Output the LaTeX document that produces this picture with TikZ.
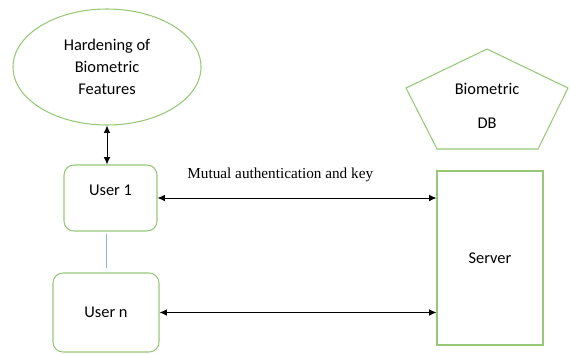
\documentclass[tikz,border=0pt]{standalone}
\usepackage{fontspec}
\setmainfont{Carlito}
\newfontfamily\serifnote{Liberation Serif}
\usetikzlibrary{arrows.meta,shapes.geometric}
\definecolor{boxgreen}{RGB}{150,200,120}
\definecolor{linkblue}{RGB}{140,180,225}
\tikzset{%
  >={Latex[width=2mm,length=2.2mm]},
  % Specifications for style of nodes:
         base/.style = {draw=boxgreen, line width=0.9pt, text centered,
                        font=\fontsize{14}{19}\selectfont},
   featureell/.style = {base, ellipse, align=center, inner sep=0pt,
                        minimum width=5.64cm, minimum height=3.48cm},
      userbox/.style = {base, rectangle, rounded corners=0.3cm},
    serverbox/.style = {base, rectangle, minimum width=3.18cm,
                        minimum height=5.22cm},
   connection/.style = {<->, line width=0.8pt, black},
     linkline/.style = {draw=linkblue, line width=0.8pt},
}

\begin{document}
\begin{tikzpicture}[x=0.03cm, y=-0.03cm]
  \useasboundingbox (0,0) rectangle (570,353);

  % Specification of nodes (position, etc.)
  \node (hardening) [featureell] at (107,67)
  {Hardening of\\Biometric\\Features};
  \node (user1)     [userbox, minimum width=2.79cm, minimum height=1.98cm,
                     label={[base, draw=none, yshift=0.24cm]center:User 1}]
                     at (110.5,198) {};
  \node (usern)     [userbox, minimum width=3.18cm, minimum height=2.37cm]
                     at (106,312.5) {User n};
  \node (server)    [serverbox] at (490,258) {Server};

  % pentagon for the database
  \draw[draw=boxgreen, line width=0.9pt]
    (487,49) -- (568,88) -- (538,149) -- (437,149) -- (406,88) -- cycle;
  \node (biodb) [base, draw=none, align=center, font=\fontsize{14}{29}\selectfont]
    at (487,106) {Biometric\\DB};

  % Specification of lines between nodes specified above
  \draw[connection] (hardening.south) -- (hardening.south |- user1.north);
  \draw[linkline, shorten <=2pt, shorten >=4pt]
    (usern.north |- user1.south) -- (usern.north);
  \draw[connection] (user1) -- node[pos=0.44, above=0.36cm, font=\serifnote\fontsize{13}{15}\selectfont]
    {Mutual authentication and key} (server.west |- user1);
  \draw[connection] (usern) -- (server.west |- usern);
\end{tikzpicture}
\end{document}
